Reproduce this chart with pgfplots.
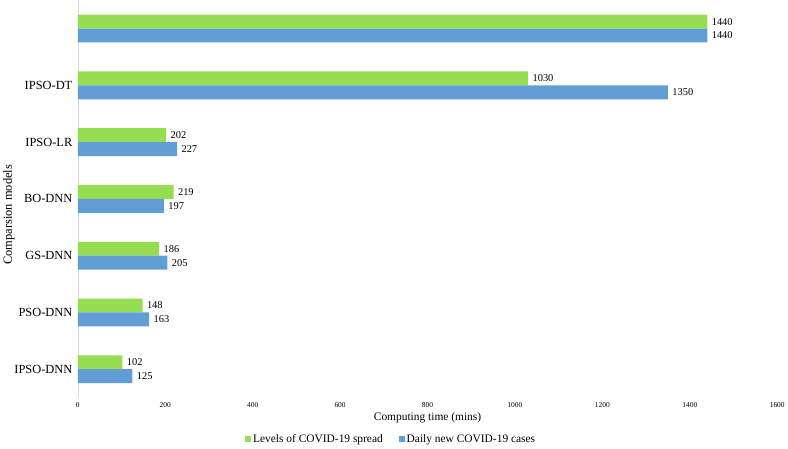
\documentclass[border=0pt]{standalone}
\usepackage{pgfplots}
\pgfplotsset{compat=1.18}
\usepackage{fontspec}
\setmainfont{Liberation Serif}
\definecolor{cgreen}{RGB}{150,221,82}
\definecolor{cblue}{RGB}{98,158,214}
\begin{document}
\begin{tikzpicture}
\begin{axis}[
  scale only axis,
  width=704pt, height=400pt,
  xbar,
  xmin=0, xmax=1600,
  ymin=-0.5, ymax=6.5,
  xtick={0,200,...,1600},
  ytick={0,1,2,3,4,5,6},
  yticklabels={IPSO-DNN,PSO-DNN,GS-DNN,BO-DNN,IPSO-LR,IPSO-DT,{}},
  /pgf/number format/assume math mode=true,
  /pgf/number format/1000 sep={},
  xticklabel style={font=\fontsize{7.5}{8}\selectfont, yshift=-1pt},
  yticklabel style={font=\fontsize{12.5}{13}\selectfont, xshift=-2pt},
  axis x line*=bottom,
  axis y line*=left,
  x axis line style={draw=none},
  y axis line style={draw=black!15, -},
  major tick length=0pt,
  xlabel={Computing time (mins)},
  xlabel style={font=\fontsize{11.5}{12}\selectfont, at={(axis description cs:0.5,-0.05)}, anchor=center},
  ylabel={Comparsion models},
  ylabel style={font=\fontsize{12.5}{13}\selectfont, at={(axis description cs:-0.0985,0.46)}, anchor=center, rotate=0},
  bar width=14pt,
  nodes near coords,
  nodes near coords style={font=\fontsize{10.5}{11}\selectfont, anchor=west, xshift=1pt},
  every node near coord/.append style={/pgf/number format/1000 sep={}},
  legend style={at={(axis description cs:0.448,-0.105)}, anchor=center, draw=none, legend columns=2,
    font=\fontsize{11.5}{12}\selectfont, /tikz/every even column/.append style={column sep=14pt}},
  legend image code/.code={\fill[#1] (0pt,-3pt) rectangle (6pt,3pt);},
  clip=false,
]
\addplot[draw=none, fill=cgreen, bar shift=7pt] coordinates {(102,0) (148,1) (186,2) (219,3) (202,4) (1030,5) (1440,6)};
\addlegendentry{Levels of COVID-19 spread}
\addplot[draw=none, fill=cblue, bar shift=-7pt] coordinates {(125,0) (163,1) (205,2) (197,3) (227,4) (1350,5) (1440,6)};
\addlegendentry{Daily new COVID-19 cases}
\end{axis}
\end{tikzpicture}
\end{document}
